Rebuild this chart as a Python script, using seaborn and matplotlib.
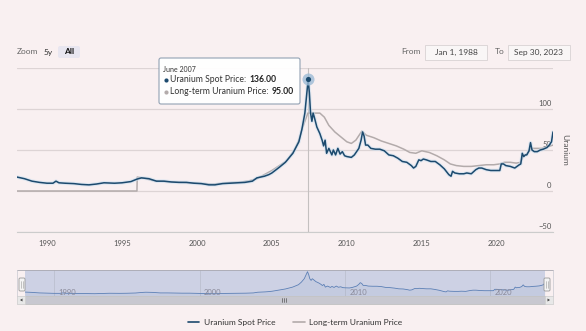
import numpy as np
import pandas as pd
import matplotlib
matplotlib.use("Agg")
import matplotlib.pyplot as plt
from matplotlib.patches import FancyBboxPatch, Rectangle, Polygon
from matplotlib.lines import Line2D
import seaborn as sns

# ---------------- data ----------------
spot_years = [1988.0, 1988.5, 1989.0, 1989.5, 1990.0, 1990.4, 1990.6, 1990.8, 1991.2, 1991.8,
              1992.3, 1992.8, 1993.3, 1993.8, 1994.5, 1995.0, 1995.6, 1996.0, 1996.3, 1996.8,
              1997.3, 1997.8, 1998.3, 1998.8, 1999.3, 1999.8, 2000.3, 2000.8, 2001.2, 2001.7,
              2002.2, 2002.7, 2003.2, 2003.7, 2004.0, 2004.5, 2004.8, 2005.0, 2005.5, 2005.9,
              2006.4, 2006.8, 2007.0, 2007.2, 2007.42, 2007.5, 2007.58, 2007.67, 2007.75, 2007.83,
              2008.0, 2008.2, 2008.35, 2008.45, 2008.55, 2008.65, 2008.8, 2008.9, 2009.0, 2009.1,
              2009.25, 2009.4, 2009.55, 2009.7, 2009.85, 2010.0, 2010.3, 2010.5, 2010.8, 2010.95,
              2011.05, 2011.15, 2011.25, 2011.4, 2011.6, 2011.9, 2012.2, 2012.5, 2012.8, 2013.1,
              2013.4, 2013.7, 2014.0, 2014.3, 2014.45, 2014.6, 2014.8, 2014.95, 2015.1, 2015.3,
              2015.6, 2015.9, 2016.2, 2016.5, 2016.8, 2016.95, 2017.05, 2017.2, 2017.5, 2017.8,
              2018.0, 2018.3, 2018.6, 2018.8, 2019.0, 2019.3, 2019.6, 2019.9, 2020.2, 2020.3,
              2020.45, 2020.6, 2020.9, 2021.2, 2021.5, 2021.6, 2021.7, 2021.8, 2021.9, 2022.0,
              2022.15, 2022.25, 2022.35, 2022.5, 2022.7, 2022.9, 2023.1, 2023.35, 2023.5, 2023.65,
              2023.75]
spot_values = [17, 15, 12, 10.5, 9.5, 9.5, 12, 10, 9.5, 9,
               8, 7.5, 8.5, 10, 9.5, 10, 11.5, 14.5, 16, 15,
               12, 12, 11, 10.5, 10.5, 9.5, 9, 7.5, 7.5, 9,
               9.5, 10, 10.5, 12, 16, 18, 20, 22, 29, 35,
               46, 60, 75, 95, 136, 120, 95, 85, 95, 90,
               78, 70, 62, 55, 62, 46, 52, 48, 44, 50,
               44, 52, 45, 48, 43, 42, 41, 44, 52, 62,
               72, 67, 56, 56, 52, 51, 51, 49, 44, 43,
               40, 36, 35, 31, 28, 30, 38, 37, 39, 38,
               36, 36, 32, 27, 20, 18, 24, 22, 21, 21,
               22, 21, 26, 28, 28, 26, 25, 25, 25, 33,
               33, 31, 30, 28, 32, 33, 46, 42, 44, 44,
               49, 59, 50, 48, 48, 50, 51, 53, 56, 60,
               72]

lt_years = [1988.0, 1996.0, 1996.02, 1996.5, 1997.0, 1997.5, 1998.0, 1998.5, 1999.0, 1999.5,
            2000.0, 2000.5, 2001.0, 2001.5, 2002.0, 2002.5, 2003.0, 2003.5, 2004.0, 2004.5,
            2005.0, 2005.5, 2006.0, 2006.5, 2006.8, 2007.0, 2007.2, 2007.4, 2008.2, 2008.5,
            2008.8, 2009.2, 2009.6, 2010.0, 2010.3, 2010.6, 2011.0, 2011.3, 2011.8, 2012.3,
            2012.8, 2013.3, 2013.8, 2014.2, 2014.6, 2015.0, 2015.5, 2016.0, 2016.5, 2016.9,
            2017.3, 2017.8, 2018.3, 2018.8, 2019.3, 2019.8, 2020.2, 2020.5, 2020.9, 2021.3,
            2021.6, 2021.75, 2022.0, 2022.3, 2022.6, 2023.0, 2023.4, 2023.75]
lt_values = [0, 0, 17, 15.5, 13, 12, 11.5, 11, 10.5, 10,
             9.5, 9, 8.5, 9, 10, 10.5, 11, 12.5, 15, 20,
             25, 31, 37, 50, 62, 75, 85, 95, 95, 90,
             80, 72, 66, 60, 58, 62, 73, 68, 65, 61,
             58, 55, 51, 47, 46, 49, 47, 43, 38, 33,
             31, 30, 30, 31, 32, 32, 33, 35, 35, 34,
             35, 42, 45, 52, 52, 52, 54, 56]

x_ticks = [1990, 1995, 2000, 2005, 2010, 2015, 2020]
y_ticks = [-50, 0, 50, 100]
nav_ticks = [1990, 2000, 2010, 2020]
series_names = ["Uranium Spot Price", "Long-term Uranium Price"]
hover_year, hover_spot, hover_lt = 2007.42, 136.00, 95.00

# ---------------- style ----------------
BG = "#f9f0f1"
GRID = "#ddd4d5"
SPOT = "#1c4a6e"
LT = "#b3abab"
TXT = "#555555"

sns.set_style("white")
plt.rcParams["font.family"] = ["Lato", "DejaVu Sans"]

W, H = 586, 331
fig = plt.figure(figsize=(W / 100, H / 100), dpi=100)
fig.patch.set_facecolor(BG)


def px_rect(x0, y0, x1, y1):
    return [x0 / W, 1 - y1 / H, (x1 - x0) / W, (y1 - y0) / H]


spot_df = pd.DataFrame({"year": spot_years, "price": spot_values})
lt_df = pd.DataFrame({"year": lt_years, "price": lt_values})

# ---------------- main chart ----------------
ax = fig.add_axes(px_rect(17, 68, 553, 232))
ax.set_facecolor(BG)
for v in [-50, 0, 50, 100, 150]:
    ax.axhline(v, color=GRID, lw=0.9, zorder=0)
ax.axvline(hover_year, color="#c4c0c0", lw=0.8, zorder=1)

sns.lineplot(data=lt_df, x="year", y="price", ax=ax, color=LT, lw=1.1,
             estimator=None, zorder=3)
sns.lineplot(data=spot_df, x="year", y="price", ax=ax, color="#c9def0", lw=2.6,
             estimator=None, alpha=0.55, zorder=4)
sns.lineplot(data=spot_df, x="year", y="price", ax=ax, color=SPOT, lw=1.1,
             estimator=None, zorder=5)
ax.scatter([hover_year], [hover_spot], s=75, color="#9dbbd6", alpha=0.8, zorder=6, lw=0)
ax.scatter([hover_year], [hover_spot], s=14, color=SPOT, zorder=7, lw=0)

ax.set_xlim(1988, 2023.75)
ax.set_ylim(-50, 150)
ax.set_xticks(x_ticks)
ax.set_xticklabels([str(t) for t in x_ticks])
ax.set_yticks([])
ax.tick_params(axis="x", labelsize=5.5, colors=TXT, length=3, width=0.6, pad=3, color="#cccccc")
for lab in ax.get_xticklabels():
    lab.set_color(TXT)
ax.set_xlabel("")
ax.set_ylabel("")
for s in ["top", "left", "right"]:
    ax.spines[s].set_visible(False)
ax.spines["bottom"].set_color("#cccccc")
ax.spines["bottom"].set_linewidth(0.8)
for v in y_ticks:
    ax.text(0.997, v + 3, f"{v}".replace("-", "\u2212"), transform=ax.get_yaxis_transform(),
            ha="right", va="bottom", fontsize=5.5, color=TXT)
ax.text(1.022, 0.5, "Uranium", transform=ax.transAxes, rotation=-90, ha="center",
        va="center", fontsize=6, color=TXT)

# ---------------- navigator ----------------
nav = fig.add_axes(px_rect(25, 270, 545, 296))
nav.set_facecolor("#cdd1e4")
sns.lineplot(data=spot_df, x="year", y="price", ax=nav, color="#5b7fb5", lw=0.6,
             estimator=None)
nav.fill_between(spot_years, spot_values, -10, color="#5b7fb5", alpha=0.07, lw=0)
nav.set_xlim(1988, 2023.75)
nav.set_ylim(-6, 146)
nav.set_xticks([])
nav.set_yticks([])
nav.set_xlabel("")
nav.set_ylabel("")
for s in nav.spines.values():
    s.set_visible(False)
for t in nav_ticks:
    nav.axvline(t, color="#b8bccb", lw=0.5, zorder=0)
    nav.text(t + 0.3, 0.12, str(t), transform=nav.get_xaxis_transform(), fontsize=5.5,
             color="#8a8a9a", ha="left", va="center")

# ---------------- overlay (UI chrome) ----------------
ov = fig.add_axes([0, 0, 1, 1], zorder=10)
ov.set_xlim(0, W)
ov.set_ylim(H, 0)
ov.axis("off")
ov.patch.set_alpha(0)

# navigator outline
ov.plot([17, 553], [270, 270], color="#a8a8b0", lw=0.6)
ov.plot([17, 17], [270, 296], color="#c8c8d0", lw=0.5)
ov.plot([553, 553], [270, 296], color="#c8c8d0", lw=0.5)
for hx in [22, 547]:
    ov.add_patch(FancyBboxPatch((hx - 3, 278), 6, 13, boxstyle="round,pad=0,rounding_size=1.2",
                                fc="#f4f4f4", ec="#999999", lw=0.6))
    ov.plot([hx - 0.8, hx - 0.8], [281, 288], color="#999999", lw=0.4)
    ov.plot([hx + 0.8, hx + 0.8], [281, 288], color="#999999", lw=0.4)

# scrollbar
ov.add_patch(Rectangle((17, 296), 536, 8, fc="#eeeeee", ec="#d0d0d0", lw=0.4))
ov.add_patch(Rectangle((25, 296), 520, 8, fc="#c8c8d0", ec="#bbbbbb", lw=0.4))
for bx in [17, 545]:
    ov.add_patch(Rectangle((bx, 296), 8, 8, fc="#e8e8e8", ec="#cccccc", lw=0.4))
ov.add_patch(Polygon([[22.5, 298.5], [22.5, 301.5], [20, 300]], closed=True, fc="#444444", lw=0))
ov.add_patch(Polygon([[547.5, 298.5], [547.5, 301.5], [550, 300]], closed=True, fc="#444444", lw=0))
for gx in [282, 284, 286]:
    ov.plot([gx, gx], [298.3, 301.7], color="#555555", lw=0.5)

# range selector buttons
ov.text(17, 52, "Zoom", fontsize=6, color="#666666", ha="left", va="center")
ov.text(44, 52, "5y", fontsize=6, color="#333333", ha="left", va="center")
ov.add_patch(FancyBboxPatch((58, 46), 22, 12, boxstyle="round,pad=0,rounding_size=2",
                            fc="#e8e6f0", ec="none"))
ov.text(64, 52, "All", fontsize=6, color="#111111", ha="left", va="center", fontweight="bold")
ov.text(401, 52, "From", fontsize=6, color="#666666", ha="left", va="center")
ov.add_patch(Rectangle((425, 45), 62, 15, fc="#f9f6f6", ec="#d8d2d3", lw=0.6))
ov.text(456, 52.5, "Jan 1, 1988", fontsize=6, color="#444444", ha="center", va="center")
ov.text(495, 52, "To", fontsize=6, color="#666666", ha="left", va="center")
ov.add_patch(Rectangle((508, 45), 62, 15, fc="#f9f6f6", ec="#d8d2d3", lw=0.6))
ov.text(539, 52.5, "Sep 30, 2023", fontsize=6, color="#444444", ha="center", va="center")

# tooltip
ov.add_patch(FancyBboxPatch((159, 58), 141, 46, boxstyle="round,pad=0,rounding_size=2",
                            fc="#ffffff", ec="#8d9db0", lw=0.8, alpha=0.95))
ov.text(163, 69, "June 2007", fontsize=5, color="#333333", ha="left", va="center")
renderer = fig.canvas.get_renderer()
for yy, col, name, val in [(80, SPOT, series_names[0], hover_spot),
                           (92, LT, series_names[1], hover_lt)]:
    ov.scatter([165.5], [yy], s=9, color=col, lw=0)
    t = ov.text(170, yy, f"{name}: ", fontsize=6.2, color="#333333", ha="left", va="center")
    bb = t.get_window_extent(renderer)
    xe = ov.transData.inverted().transform((bb.x1, bb.y0))[0]
    ov.text(xe + 1, yy, f"{val:.2f}", fontsize=6.2, color="#222222", ha="left",
            va="center", fontweight="bold")

# legend
handles = [Line2D([], [], color=SPOT, lw=1.2), Line2D([], [], color=LT, lw=1.2)]
fig.legend(handles, series_names, loc="center", bbox_to_anchor=(295 / W, 1 - 322 / H),
           ncol=2, frameon=False, fontsize=6, handlelength=1.4, handletextpad=0.5,
           columnspacing=2.2, labelcolor="#333333")

fig.savefig("out.png", dpi=100, facecolor=BG)
